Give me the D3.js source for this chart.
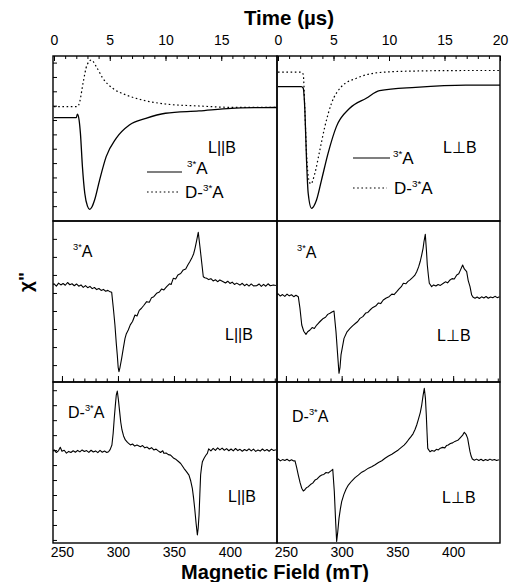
<!DOCTYPE html>
<html>
<head>
<meta charset="utf-8">
<script src="https://cdn.jsdelivr.net/npm/d3@7"></script>
<style>
  body { margin: 0; background: #fff; }
  svg text { font-family: "Liberation Sans", Arial, sans-serif; fill: #000; }
</style>
</head>
<body>
<svg id="chart"></svg>
<script>
// values; signal is in arbitrary units (0 = panel bottom, 100 = panel top)
const timeTicks = [0, 5, 10, 15, 20];
const fieldTicks = [250, 300, 350, 400];

// time traces [t (us), signal]
const paraSolid = [[0,62.6],[1,62.6],[2.0,62.7],[2.1,64.8],[2.25,61.2],[2.37,53.1],[2.55,32.9],[2.76,16.8],[3.0,9],[3.2,7.1],[3.4,8.5],[3.64,12.7],[4.09,24.8],[4.68,39],[5.57,50.1],[6.76,58.2],[8.24,62.2],[10,65.3],[13,66.7],[15.9,68.3],[18.3,68.7],[20,68.8]];
const paraDotted = [[0,69.3],[2.1,69.3],[2.3,72],[2.6,83.4],[2.96,94.5],[3.35,97.6],[3.8,93.5],[4.38,86.5],[5.27,80.4],[6.46,76.4],[7.94,73.3],[10,70.9],[13,69.7],[15.9,68.9],[20,68.9]];
const perpSolid = [[0,81.4],[2.1,81.4],[2.27,80.5],[2.42,67.3],[2.57,37],[2.72,16.8],[3.02,7.7],[3.47,12.7],[3.92,24.8],[4.51,41],[5.26,57.2],[6.46,68.3],[7.95,74.4],[9.15,79],[12.4,81],[16.9,82.4],[20,82.4]];
const perpDotted = [[0,90.2],[2.1,90.2],[2.27,89],[2.42,67.3],[2.57,41],[2.78,24.8],[2.96,22.4],[3.32,28.9],[3.77,43],[4.22,57.2],[4.82,71.3],[5.71,81.4],[7.06,86.5],[9.15,90],[12.4,90.9],[16.9,91.2],[20,91.2]];

// spectra [field (mT), signal]
const specParaA = [[241,60.2],[243,61.0],[245,59.6],[247,61.4],[249,60.3],[251,61.2],[253,60.1],[255,61.8],[257,60.4],[259,61.0],[261,59.8],[263,60.9],[265,59.5],[267,60.3],[269,58.8],[271,59.9],[273,58.6],[275,59.4],[277,58.0],[279,58.7],[281,57.4],[283,58.1],[285,56.9],[287,57.5],[289,56.4],[291,56.9],[293,56.0],[294.4,55.7],[296,45],[297.3,35.4],[298.5,24],[299.4,16.8],[300.2,9],[300.9,6.4],[301.8,9],[303.3,14.7],[304.8,21],[306.3,27.1],[307.5,30],[309.2,32.3],[311,35.5],[313,37.6],[315.2,41.6],[317,41],[319,44.5],[321,45.8],[323,47.5],[325.6,49.9],[328,49.5],[330,52.4],[332,53],[334.5,55.1],[337,55.9],[339,57.8],[341,57.2],[343.5,59.2],[346,61],[347.5,60.6],[349.4,64.4],[351.5,64],[353.5,66.5],[356,67.4],[358.3,69.6],[360.5,70.2],[362.5,72.8],[364,74.5],[365.8,76.8],[367.5,79.5],[368.8,83],[370.3,88],[371.7,93],[373.2,84],[374.7,74.7],[376.2,65.4],[377.5,64.8],[379.2,64.4],[381,63.6],[383,64.2],[385,62.8],[387,63.5],[389,62.3],[391,63.4],[394,62.3],[396,61.5],[398,62.6],[400,61.2],[402,62],[404,60.6],[406,61.4],[408.9,60.2],[411,61.3],[413,59.8],[415,60.8],[417,59.6],[419,60.9],[421,59.7],[423.8,59.8],[426,60.9],[428,59.4],[430,60.6],[432,59.5],[434,61],[436,59.8],[438.7,60.3],[441,59.9]];
const specPerpA = [[241,54.0],[243,54.8],[245,53.4],[247,54.3],[249,53.2],[251,54.6],[253,53.5],[255,54.2],[257,53.0],[259,53.9],[261.1,53.0],[262.6,45.7],[264.2,35.4],[266,31.5],[268,29.6],[269.5,31.2],[271.6,32.3],[273.5,33.8],[275.5,33.2],[277.6,35.4],[279.5,36.8],[281.5,38.2],[283.5,39.5],[285.5,40.2],[287.5,42],[289.5,42.7],[291.3,43.5],[293.1,44.1],[294.9,31.3],[296.4,16.8],[297.6,5.4],[298.5,9],[299.4,16.8],[302.1,27.1],[304.8,31.2],[307.5,33.3],[310,35],[312.5,36.5],[314.4,37.6],[316.4,39.5],[319,40.6],[321.5,42.8],[323.5,43.2],[325.4,44.7],[328,46.3],[330.5,47.2],[333,49.1],[335,48.7],[337.3,50.9],[340,52.2],[342.5,53.0],[345,54.6],[347,54.3],[349.4,56.1],[351.5,57.8],[353.5,59.2],[355.3,61.3],[357.5,61.0],[359.5,62.5],[361.3,63.4],[363.5,64.8],[365.5,66.2],[367.3,68.5],[369,71.5],[370.5,75],[371.8,78.9],[373,83],[373.8,87.1],[375,91.7],[376,82],[376.8,72.7],[377.8,66],[378.6,61.3],[380.7,59.2],[382.5,60.3],[384.5,59.6],[386.5,60.6],[388.5,60.0],[391.2,61.3],[393,62.2],[395,61.6],[397.2,63.4],[399,64.2],[401,64],[403.2,66.5],[405,67.2],[406.5,69.5],[408.5,72.7],[410,70.2],[412.1,68.5],[413.5,63],[415.1,59.2],[416.6,54],[418,52.6],[419.6,52],[421.5,52.8],[423.5,51.9],[425.5,52.9],[427.5,52.2],[429.5,53.1],[431.5,52.0],[433.5,52.8],[435.5,52.3],[437.5,53.2],[439.5,52.4],[441.5,53]];
const specParaDA = [[241,56.5],[243,57.8],[245,56.2],[247,57.4],[248.5,59.5],[250,57],[252,57.6],[254,55.8],[256,56.9],[258,56.2],[260,57.3],[262,56.4],[264,57.5],[266,56.6],[268,57.8],[270,56.8],[272,57.4],[274,56.3],[276,57.6],[278,56.5],[280,57.2],[282,56.1],[284,57.5],[286,56.4],[288,57.1],[290,56.2],[291.6,56.7],[293,58],[294.6,60.9],[295.7,68],[296.7,77.5],[297.6,85],[298.5,91.9],[299.4,94.4],[300.4,89],[301.5,81.6],[302.5,75],[303.6,70.2],[305,66.5],[306.6,64],[308.5,62.5],[311.1,60.9],[313,61.5],[315,60.2],[317,60.8],[320,59.8],[322,60.5],[324,59.1],[326,59.6],[328,58.4],[330,59.2],[332,57.8],[334,58.3],[336,57.2],[338,56.2],[340,57.3],[341,55.7],[343,55.9],[345,54.9],[347,54.6],[349.9,52.6],[352,51.8],[354,50.6],[356,49.4],[358.9,46.4],[361,44.5],[363.4,42.2],[365,38.5],[366.4,34],[367.5,28],[368.5,21.6],[369.8,12],[370.9,5],[371.6,9],[372.4,17.4],[373.1,30],[373.8,42.2],[374.6,47],[375.4,50.5],[377,52.8],[378.5,54.5],[379.8,55.7],[381,58.5],[383,57.2],[385,58.8],[387,57.5],[389,59.1],[391,57.8],[393,58.9],[395,57.6],[397,58.6],[399,57.3],[401,58.4],[403,57.2],[405,58.7],[407,57.4],[409,58.2],[411,57],[413,58.1],[415,57.3],[417,58.5],[419,57.2],[421,58.3],[423,56.9],[425,57.8],[427,57.1],[429,58.4],[431,57.2],[433,58.1],[435,57],[437,58.3],[439,57.5],[441,57.9]];
const specPerpDA = [[241,51.6],[243,52.2],[245,51.0],[247,51.8],[249,51.2],[251,52.0],[253,51.0],[255,51.7],[257,50.9],[258.1,51.1],[259.6,47],[261.1,42.2],[262.7,37.5],[264.2,34],[265.6,32.3],[267,33.1],[268.5,34.4],[270.1,35],[272,36.3],[274,37.2],[276.1,39.1],[278,39.8],[280,41.3],[282.1,42.2],[284,42.6],[286,43.8],[288,43.5],[289.5,44.3],[291,45.1],[292,45.8],[293.4,31.9],[294.6,13.2],[295.5,1],[296.5,7],[297.6,15.3],[298.8,21],[300,25.7],[302,30.2],[304,33.5],[306,36],[309,38.5],[312,40.6],[314.9,42.2],[318,44],[321,45.1],[324,46.5],[326.9,47.4],[330,48.6],[333,50.0],[336,51.1],[338.9,52.6],[342,54],[345,55.1],[348,56.5],[350.8,57.8],[353.5,59.4],[356,60.8],[358,62.3],[359.8,64],[362,65.9],[364,67.8],[365.8,70.5],[367.3,73.3],[368.8,76.8],[370.5,81],[371.8,85.7],[373,91.5],[374.1,96.1],[375.1,90],[375.9,79.5],[376.6,68],[377.2,58.8],[379.2,56.7],[381,57.5],[383,57.0],[385,58.2],[386.7,57.8],[388.5,58.9],[390.5,59.4],[392.5,59.1],[394,60.5],[395.6,60.9],[397.5,61.8],[399.5,62.2],[401.5,63.1],[403,63.5],[404.6,64],[406.5,65.5],[408.5,67],[410,68.8],[411.5,67.5],[413,65],[414,61],[415.1,56.7],[416.1,54],[417.2,52.2],[419,51.4],[421,52.1],[423,51.3],[425,52.0],[427,51.1],[429,51.9],[431,51.2],[433,52.1],[435,51.4],[437,51.9],[439,51.2],[441,51.7]];

const W = 512, H = 582;
const colX = [[53, 277], [277, 500]];
const rowY = [[56, 221], [221, 382], [382, 543]];

const svg = d3.select('#chart').attr('width', W).attr('height', H);
svg.append('rect').attr('width', W).attr('height', H).attr('fill', '#fff');

const timeX = colX.map(([a, b]) => d3.scaleLinear().domain([0, 20]).range([a + 1, b]));
const fieldX = colX.map(r => d3.scaleLinear().domain([242, 442]).range(r));
const yRow = rowY.map(([t, b]) => d3.scaleLinear().domain([0, 100]).range([b, t]));

// clip each panel
const defs = svg.append('defs');
rowY.forEach(([t, b], r) => colX.forEach(([a, c], k) => {
  defs.append('clipPath').attr('id', `clip${r}${k}`)
    .append('rect').attr('x', a).attr('y', t).attr('width', c - a).attr('height', b - t);
}));

function drawLine(data, r, c, x, opts) {
  const line = d3.line().x(d => x(d[0])).y(d => yRow[r](d[1])).curve(opts.curve || d3.curveLinear);
  svg.append('path').datum(data)
    .attr('clip-path', `url(#clip${r}${c})`)
    .attr('d', line)
    .attr('fill', 'none')
    .attr('stroke', '#000')
    .attr('stroke-width', opts.width || 1.1)
    .attr('stroke-dasharray', opts.dash || null)
    .attr('stroke-linejoin', 'round');
}

// top row: time traces
drawLine(paraDotted, 0, 0, timeX[0], { curve: d3.curveMonotoneX, dash: '1.6,2.6', width: 1.2 });
drawLine(paraSolid, 0, 0, timeX[0], { curve: d3.curveMonotoneX, width: 1.3 });
drawLine(perpDotted, 0, 1, timeX[1], { curve: d3.curveMonotoneX, dash: '1.6,2.6', width: 1.2 });
drawLine(perpSolid, 0, 1, timeX[1], { curve: d3.curveMonotoneX, width: 1.3 });

// middle + bottom rows: spectra
drawLine(specParaA, 1, 0, fieldX[0], {});
drawLine(specPerpA, 1, 1, fieldX[1], {});
drawLine(specParaDA, 2, 0, fieldX[0], {});
drawLine(specPerpDA, 2, 1, fieldX[1], {});

// panel frames
rowY.forEach(([t, b]) => colX.forEach(([a, c]) => {
  svg.append('rect').attr('x', a).attr('y', t).attr('width', c - a).attr('height', b - t)
    .attr('fill', 'none').attr('stroke', '#000').attr('stroke-width', 1.4);
}));

function cleanAxis(g, size) {
  g.select('.domain').remove();
  g.attr('font-family', null).attr('font-size', size);
  g.selectAll('line').attr('stroke-width', 1);
}

// top time axis
colX.forEach((_, c) => {
  svg.append('g').attr('transform', `translate(0,${rowY[0][0]})`)
    .call(d3.axisTop(timeX[c]).tickValues(d3.range(1, 20)).tickSize(-3).tickFormat(''))
    .call(g => cleanAxis(g, 14));
  svg.append('g').attr('transform', `translate(0,${rowY[0][0]})`)
    .call(d3.axisTop(timeX[c]).tickValues(c === 0 ? timeTicks.slice(0, -1) : timeTicks).tickSize(-5).tickPadding(11))
    .call(g => cleanAxis(g, 14));
});

// field ticks along the middle/bottom boundary, labels under the bottom row
colX.forEach((_, c) => {
  svg.append('g').attr('transform', `translate(0,${rowY[1][1]})`)
    .call(d3.axisBottom(fieldX[c]).tickValues(d3.range(250, 441, 10)).tickSize(-3.5).tickFormat(''))
    .call(g => cleanAxis(g, 14));
  svg.append('g').attr('transform', `translate(0,${rowY[1][1]})`)
    .call(d3.axisBottom(fieldX[c]).tickValues(fieldTicks).tickSize(-6).tickFormat(''))
    .call(g => cleanAxis(g, 14));
  svg.append('g').attr('transform', `translate(0,${rowY[2][1]})`)
    .call(d3.axisBottom(fieldX[c]).tickValues(fieldTicks).tickSize(0).tickPadding(4))
    .call(g => cleanAxis(g, 14));
});

// left-edge ticks (arbitrary units)
const yTickStart = [9, 10.5, 1.9];
const yTickStep = [8.7, 11.2, 9.3];
rowY.forEach((_, r) => {
  svg.append('g').attr('transform', `translate(${colX[0][0]},0)`)
    .call(d3.axisLeft(yRow[r]).tickValues(d3.range(yTickStart[r], 99, yTickStep[r])).tickSize(-4).tickFormat(''))
    .call(g => cleanAxis(g, 14));
});

// labels with the "3*" superscript
function speciesLabel(x, y, prefix, size) {
  const t = svg.append('text').attr('x', x).attr('y', y).attr('font-size', size);
  if (prefix) t.append('tspan').text(prefix);
  t.append('tspan').attr('font-size', size * 0.58).attr('dy', -size * 0.42).text('3*');
  t.append('tspan').attr('dy', size * 0.42).text('A');
}
function plainLabel(x, y, txt, size) {
  svg.append('text').attr('x', x).attr('y', y).attr('font-size', size).text(txt);
}

// legends in the time panels
function legendLine(x1, x2, y, dash) {
  svg.append('line').attr('x1', x1).attr('x2', x2).attr('y1', y).attr('y2', y)
    .attr('stroke', '#000').attr('stroke-width', 1.2).attr('stroke-dasharray', dash || null);
}
legendLine(147, 182, 172);
speciesLabel(187, 174, '', 17);
legendLine(147, 180, 192, '1.6,2.6');
speciesLabel(185, 198, 'D-', 17);
plainLabel(208, 153, 'L||B', 16);

legendLine(353, 390, 158);
speciesLabel(393, 164, '', 17);
legendLine(353, 387, 188, '1.6,2.6');
speciesLabel(394, 194, 'D-', 17);
plainLabel(443, 153, 'L\u22A5B', 16);

// spectrum panel labels
speciesLabel(73, 257, '', 16);
plainLabel(225, 340, 'L||B', 16);
speciesLabel(297, 258, '', 16);
plainLabel(437, 341, 'L\u22A5B', 16);
speciesLabel(68, 418, 'D-', 16);
plainLabel(228, 502, 'L||B', 16);
speciesLabel(292, 422, 'D-', 16);
plainLabel(442, 503, 'L\u22A5B', 16);

// axis titles
svg.append('text').attr('x', 289).attr('y', 25).attr('text-anchor', 'middle')
  .attr('font-size', 20.5).attr('font-weight', 'bold').text('Time (\u00B5s)');
svg.append('text').attr('x', 275).attr('y', 579).attr('text-anchor', 'middle')
  .attr('font-size', 20).attr('font-weight', 'bold').text('Magnetic Field (mT)');
svg.append('text').attr('transform', 'translate(32,282) rotate(-90)').attr('text-anchor', 'middle')
  .attr('font-size', 19).attr('font-weight', 'bold').text('\u03C7"');
</script>
</body>
</html>
